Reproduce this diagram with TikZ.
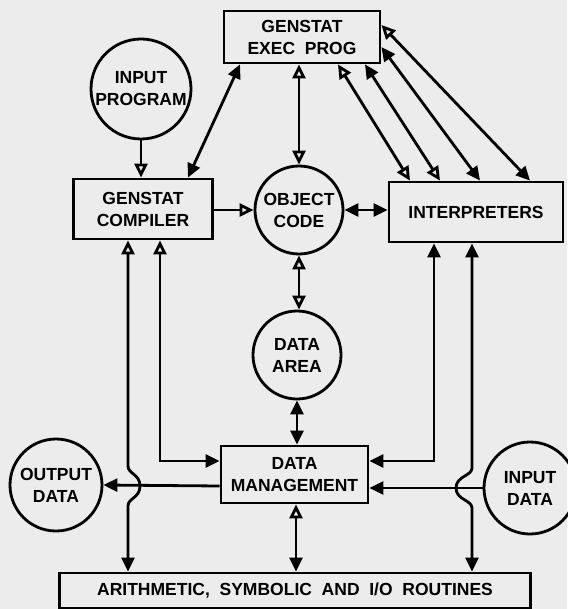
\documentclass[tikz,border=0pt]{standalone}
\usepackage{fontspec}
\setmainfont{Liberation Sans}
\usetikzlibrary{arrows.meta}
\definecolor{paper}{RGB}{236,236,236}
\tikzset{
  openT/.tip={Triangle[open,length=14pt,width=13pt]},
  fillT/.tip={Triangle[length=14pt,width=13pt]},
  lbl/.style={font=\fontsize{17.5}{22}\selectfont\bfseries, align=center, inner sep=0pt},
  box/.style={lbl, draw, rectangle},
  disc/.style={lbl, draw, circle}
}
\begin{document}
\begin{tikzpicture}[x=1pt,y=-1pt,line width=2.8pt]
\fill[paper] (0,0) rectangle (567,609);
\useasboundingbox (0,0) rectangle (567,609);
\node[box, minimum width=156pt, minimum height=52pt] (exec) at (302,37) {GENSTAT\\EXEC\ \ PROG};
\node[disc, minimum size=100pt] (inprog) at (141,89) {INPUT\\PROGRAM};
\node[box, minimum width=139pt, minimum height=60pt] (comp) at (143,209) {GENSTAT\\COMPILER};
\node[disc, minimum size=88pt] (obj) at (299,210) {OBJECT\\CODE};
\node[box, minimum width=174pt, minimum height=60pt] (interp) at (476,212) {INTERPRETERS};
\node[disc, minimum size=88pt] (darea) at (297,355) {DATA\\AREA};
\node[box, minimum width=147pt, minimum height=57pt] (dm) at (294.5,474.5) {DATA\\MANAGEMENT};
\node[disc, minimum size=92pt] (outd) at (56,485) {OUTPUT\\DATA};
\node[disc, minimum size=92pt] (ind) at (530,488) {INPUT\\DATA};
\node[box, minimum width=471pt, minimum height=35pt] (arith) at (295,590.5) {ARITHMETIC,\ \ SYMBOLIC\ \ AND\ \ I/O\ \ ROUTINES};
% top part
\draw[-openT] (inprog.south) -- (inprog.south |- comp.north);
\draw[fillT-fillT] (240,0 |- exec.south) -- (188,0 |- comp.north);
\draw[openT-openT] (obj.north |- exec.south) -- (obj.north);
\draw[-openT] (obj.west -| comp.east) -- (obj.west);
\draw[fillT-fillT] (obj.east) -- (obj.east -| interp.west);
\draw[openT-openT] (338,0 |- exec.south) -- (410,0 |- interp.north);
\draw[fillT-openT] (365,0 |- exec.south) -- (440,0 |- interp.north);
\draw[fillT-fillT] (exec.east |- 0,47) -- (480,0 |- interp.north);
\draw[openT-fillT] (exec.east |- 0,25) -- (530,0 |- interp.north);
% compiler bottom lines
\draw[openT-fillT] (128,0 |- comp.south) -- (128,466) .. controls (128,474) and (140,474) .. (140,486) .. controls (140,498) and (128,498) .. (128,506) -- (128,0 |- arith.north);
\draw[openT-fillT] (160,0 |- comp.south) -- (160,461) -- (160,461 -| dm.west);
% interpreter bottom lines
\draw[fillT-fillT] (434,0 |- interp.south) -- (434,461) -- (434,461 -| dm.east);
\draw[fillT-fillT] (472,0 |- interp.south) -- (472,468) .. controls (472,476) and (456,476) .. (456,488) .. controls (456,500) and (472,500) .. (472,508) -- (472,0 |- arith.north);
% centre column
\draw[openT-openT] (obj.south) -- (obj.south |- darea.north);
\draw[fillT-fillT] (darea.south) -- (darea.south |- dm.north);
\draw[openT-fillT] (296,0 |- dm.south) -- (296,0 |- arith.north);
% data in / out
\draw[-fillT] (dm.west |- 0,486) -- (outd.east);
\draw[-fillT] (ind.west) -- (ind.west -| dm.east);
\end{tikzpicture}
\end{document}
